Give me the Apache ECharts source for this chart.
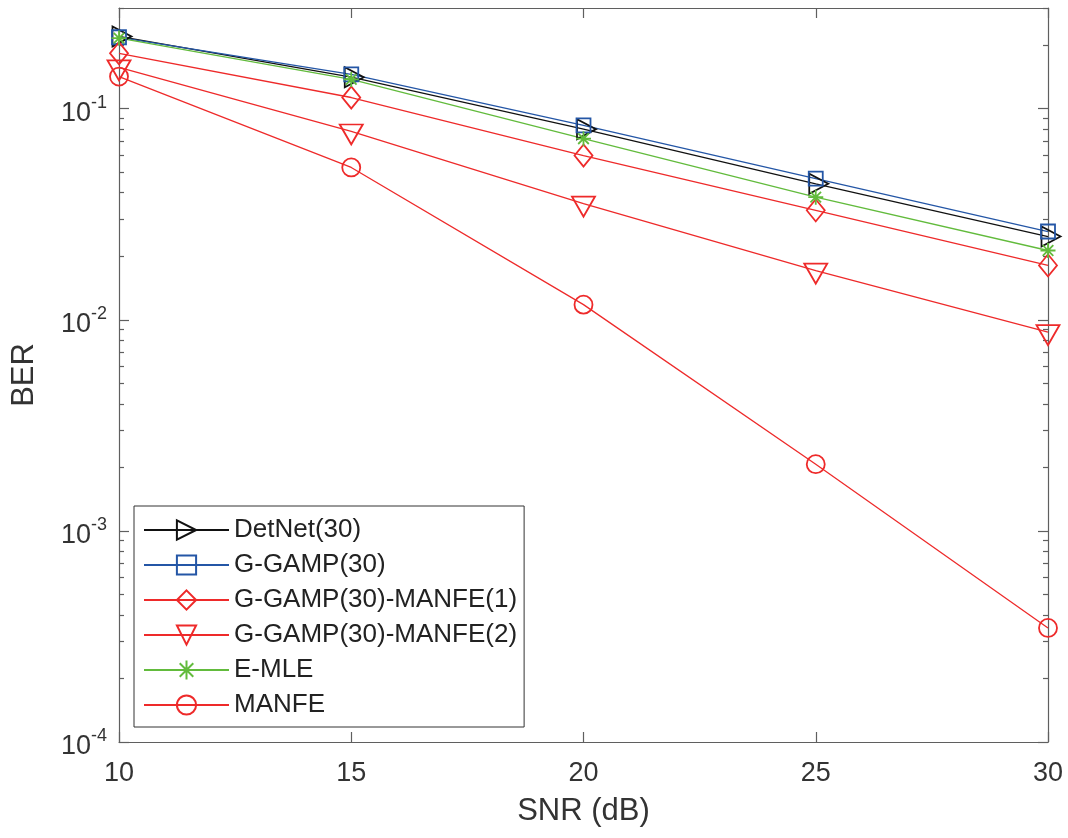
<!DOCTYPE html>
<html>
<head>
<meta charset="utf-8">
<title>BER vs SNR</title>
<script src="https://cdn.jsdelivr.net/npm/echarts@6/dist/echarts.min.js"></script>
<style>
  html, body { margin: 0; padding: 0; background: #fff; }
  #chart { width: 1068px; height: 838px; }
</style>
</head>
<body>
<div id="chart"></div>
<script>
// SNR points (dB)
var snr = [10, 15, 20, 25, 30];

// BER values
var detNet = [0.22, 0.141, 0.080, 0.0441, 0.0248];
var gGamp = [0.218, 0.1454, 0.0833, 0.0466, 0.0262];
var gGampManfe1 = [0.183, 0.113, 0.060, 0.033, 0.0181];
var gGampManfe2 = [0.157, 0.078, 0.0355, 0.0171, 0.00875];
var eMle = [0.216, 0.1377, 0.0721, 0.0381, 0.0213];
var manfe = [0.142, 0.0527, 0.0118, 0.00207, 0.000347];

var majorTicks = [1e-4, 1e-3, 1e-2, 1e-1];
var minorTicks = [];
[1e-4, 1e-3, 1e-2, 1e-1].forEach(function (d) {
  for (var k = 2; k <= 9; k++) {
    var v = +(k * d).toPrecision(3);
    if (v <= 0.3) minorTicks.push(v);
  }
});

var FONT = "'Liberation Sans', Arial, Helvetica, sans-serif";
var AXIS_COLOR = '#5f5f5f';
var TEXT_COLOR = '#333333';

var RED = '#ee2a2a';
var asterisk = 'path://M0,-10L0,10M-10,0L10,0M-7.07,-7.07L7.07,7.07M-7.07,7.07L7.07,-7.07';

function pts(vals) {
  return snr.map(function (x, i) { return [x, vals[i]]; });
}

function line(name, vals, color, symbol, size, rotate, offset) {
  return {
    name: name,
    type: 'line',
    data: pts(vals),
    clip: false,
    symbol: symbol,
    symbolSize: size,
    symbolRotate: rotate || 0,
    symbolOffset: offset || [0, 0],
    lineStyle: { color: color, width: 1.3 },
    itemStyle: { color: 'none', borderColor: color, borderWidth: 1.8 },
    emphasis: { disabled: true },
  };
}

function yAxisCfg(position, ticks, len, showLine, showLabel) {
  return {
    type: 'log',
    logBase: 10,
    position: position,
    min: 1e-4,
    max: 0.3,
    axisLine: { show: showLine, lineStyle: { color: AXIS_COLOR, width: 1.2 } },
    axisTick: { show: true, inside: true, length: len, customValues: ticks,
      lineStyle: { color: AXIS_COLOR, width: 1.2 } },
    splitLine: { show: false },
    minorTick: { show: false },
    axisLabel: showLabel ? {
      customValues: majorTicks,
      margin: 12,
      formatter: function (v) {
        var e = Math.round(Math.log10(v));
        return '{a|10}{b|' + e + '}';
      },
      rich: {
        a: { fontSize: 27, fontFamily: FONT, color: TEXT_COLOR, padding: [10, 0, 0, 0], verticalAlign: 'bottom' },
        b: { fontSize: 18, fontFamily: FONT, color: TEXT_COLOR, padding: [4, 0, 0, 0], verticalAlign: 'top' },
      },
    } : { show: false },
  };
}

var chart = echarts.init(document.getElementById('chart'));

var option = {
  backgroundColor: '#ffffff',
  animation: false,
  grid: { left: 119, right: 20, top: 8, bottom: 96, containLabel: false },
  legend: {
    orient: 'vertical',
    left: 134,
    top: 506,
    selectedMode: false,
    backgroundColor: '#ffffff',
    borderColor: '#333333',
    borderWidth: 1,
    padding: [11, 7, 9, 9],
    itemWidth: 85,
    itemHeight: 24,
    itemGap: 9,
    textStyle: { fontSize: 26, fontFamily: FONT, color: '#222222' },
  },
  xAxis: [
    {
      type: 'value',
      position: 'bottom',
      min: 10,
      max: 30,
      interval: 5,
      name: 'SNR (dB)',
      nameLocation: 'middle',
      nameGap: 54,
      nameTextStyle: { fontSize: 31, fontFamily: FONT, color: TEXT_COLOR },
      axisLine: { lineStyle: { color: AXIS_COLOR, width: 1.2 } },
      axisTick: { inside: true, length: 10, lineStyle: { color: AXIS_COLOR, width: 1.2 } },
      splitLine: { show: false },
      axisLabel: { fontSize: 27, fontFamily: FONT, color: TEXT_COLOR, margin: 18 },
    },
    {
      type: 'value',
      position: 'top',
      min: 10,
      max: 30,
      interval: 5,
      axisLine: { lineStyle: { color: AXIS_COLOR, width: 1.2 } },
      axisTick: { inside: true, length: 10, lineStyle: { color: AXIS_COLOR, width: 1.2 } },
      splitLine: { show: false },
      axisLabel: { show: false },
    },
  ],
  yAxis: [
    Object.assign(yAxisCfg('left', majorTicks, 10, true, true), {
      name: 'BER',
      nameLocation: 'middle',
      nameGap: 79,
      nameTextStyle: { fontSize: 31, fontFamily: FONT, color: TEXT_COLOR },
    }),
    yAxisCfg('left', minorTicks, 5, false, false),
    yAxisCfg('right', majorTicks, 10, true, false),
    yAxisCfg('right', minorTicks, 5, false, false),
  ],
  series: [
    line('DetNet(30)', detNet, '#111111', 'triangle', [20, 19], -90, [3, 0]),
    line('G-GAMP(30)', gGamp, '#2456a6', 'rect', 14),
    line('G-GAMP(30)-MANFE(1)', gGampManfe1, RED, 'diamond', [18, 22]),
    line('G-GAMP(30)-MANFE(2)', gGampManfe2, RED, 'triangle', [23, 20], 180, [0, 3]),
    line('E-MLE', eMle, '#62bb3c', asterisk, 15),
    line('MANFE', manfe, RED, 'circle', 18),
  ],
};

chart.setOption(option);
</script>
</body>
</html>
